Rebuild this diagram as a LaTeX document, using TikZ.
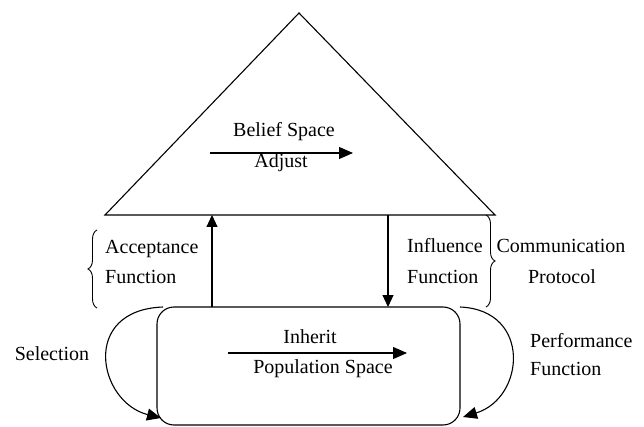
\documentclass[tikz,border=0pt]{standalone}
\usepackage{fontspec}
\setmainfont{Liberation Serif}
\usetikzlibrary{arrows.meta,decorations.pathreplacing}
\begin{document}
\begin{tikzpicture}[x=1pt,y=-1pt,
  line/.style={line width=1.1pt,black},
  bigtip/.style={-{Triangle[length=14pt,width=12pt]}},
  vtip/.style={-{Triangle[length=12pt,width=11pt]}},
  lbl/.style={inner sep=0pt,font=\fontsize{20}{24}\selectfont},
  bracestyle/.style={line width=0.9pt,decorate,decoration={brace,amplitude=9pt,aspect=0.5}}]
\useasboundingbox (0,0) rectangle (644,427);
% belief space triangle
\coordinate (tl) at (105,215);
\coordinate (tt) at (299,13);
\coordinate (tr) at (495,215);
\draw[line,line join=miter] (tl) -- (tt) -- (tr) -- cycle;
\node[lbl,anchor=base] (belief) at (284,137) {Belief Space};
\node[lbl,anchor=base] (adjust) at (281,168) {Adjust};
\coordinate (ba) at (210,153);
\coordinate (bb) at (353,153);
\draw[line,bigtip] (ba) -- (bb);
% population space
\node[line,draw,rounded corners=17pt,minimum width=303pt,minimum height=118pt,inner sep=0pt] (pop) at (308.5,366) {};
\node[lbl,anchor=base] (inherit) at (310,343) {Inherit};
\node[lbl,anchor=base] (popl) at (323,373) {Population Space};
\coordinate (pa) at (228,353);
\coordinate (pb) at (407,353);
\draw[line,bigtip] (pa) -- (pb);
% vertical connectors
\coordinate (upS) at (212,307);
\coordinate (upE) at (212,215);
\coordinate (dnS) at (388,215);
\coordinate (dnE) at (388,307);
\draw[line,vtip] (upS) -- (upE);
\draw[line,vtip] (dnS) -- (dnE);
% side labels
\node[lbl,anchor=base west] (acc1) at (105,254) {Acceptance};
\node[lbl,anchor=base west] (acc2) at (105,283) {Function};
\node[lbl,anchor=base west] (inf1) at (407,253) {Influence};
\node[lbl,anchor=base west] (inf2) at (407,283) {Function};
\node[lbl,anchor=base] (com1) at (561,253) {Communication};
\node[lbl,anchor=base] (com2) at (562,283) {Protocol};
\node[lbl,anchor=base] (sel) at (52,360) {Selection};
\node[lbl,anchor=base west] (perf1) at (530,347) {Performance};
\node[lbl,anchor=base west] (perf2) at (530,375) {Function};
% braces
\coordinate (b1a) at (97,308);
\coordinate (b1b) at (97,230);
\draw[bracestyle] (b1a) -- (b1b);
\coordinate (b2a) at (486,215);
\coordinate (b2b) at (486,307);
\draw[bracestyle] (b2a) -- (b2b);
% loops
\coordinate (lS) at (163,307);
\coordinate (lE) at (161,418);
\draw[line,bigtip] (lS) .. controls (80,310) and (98,402) .. (lE);
\coordinate (rS) at (460,307);
\coordinate (rE) at (463,417);
\draw[line,bigtip] (rS) .. controls (532,310) and (525,398) .. (rE);
\end{tikzpicture}
\end{document}
